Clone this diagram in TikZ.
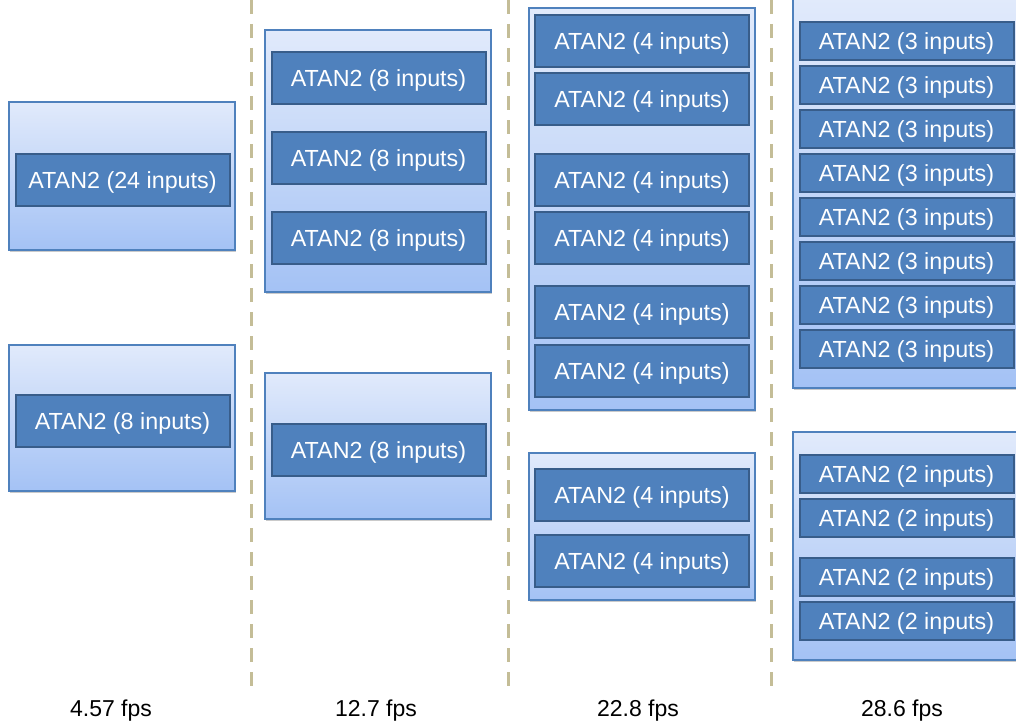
\documentclass[tikz,border=0pt]{standalone}
\usepackage{fontspec}
\setmainfont{Liberation Sans}
\usetikzlibrary{shadows}
\definecolor{outerTop}{HTML}{E1EAFB}
\definecolor{outerBot}{HTML}{A4C2F5}
\definecolor{outerLine}{HTML}{4F81BD}
\definecolor{innerFill}{HTML}{4F81BD}
\definecolor{innerLine}{HTML}{385D8A}
\definecolor{sepLine}{HTML}{C4BD97}
\tikzset{
  outerbox/.style={draw=outerLine, line width=1.2pt, top color=outerTop, bottom color=outerBot,
    minimum width=226pt, inner sep=0pt,
    drop shadow={shadow xshift=1.2pt, shadow yshift=-1.6pt, opacity=0.35, fill=black!60}},
  innerbox/.style={draw=innerLine, line width=2pt, fill=innerFill, text=white,
    minimum width=214pt, inner sep=0pt, text height=16.5pt, text depth=0pt,
    font=\fontsize{23.3}{28}\selectfont},
  tall/.style={minimum height=52pt},
  short/.style={minimum height=38pt},
  sepline/.style={draw=sepLine, line width=3pt, dash pattern=on 14pt off 10pt},
  fpslabel/.style={font=\fontsize{23}{27}\selectfont, text=black, inner sep=0pt,
    text height=16.5pt, text depth=0pt}
}
\begin{document}
\begin{tikzpicture}[x=1pt,y=-1pt]
\useasboundingbox (0,0) rectangle (1016,725);
\clip (0,0) rectangle (1016,725);
% separators
\coordinate (s1t) at (251,0); \coordinate (s1b) at (251,696);
\coordinate (s2t) at (508,0); \coordinate (s2b) at (508,696);
\coordinate (s3t) at (771,0); \coordinate (s3b) at (771,696);
\draw[sepline] (s1t) -- (s1b);
\draw[sepline] (s2t) -- (s2b);
\draw[sepline] (s3t) -- (s3b);
% column 1
\node[outerbox, minimum height=148pt] (o11) at (122,176) {};
\node[innerbox, tall] (a11) at (122.5,180) {ATAN2 (24 inputs)};
\node[outerbox, minimum height=146pt] (o12) at (122,418) {};
\node[innerbox, tall] (a12) at (122.5,421) {ATAN2 (8 inputs)};
% column 2
\node[outerbox, minimum height=262pt] (o21) at (378,161) {};
\node[innerbox, tall] (b1) at (378.5,78) {ATAN2 (8 inputs)};
\node[innerbox, tall] (b2) at (378.5,158) {ATAN2 (8 inputs)};
\node[innerbox, tall] (b3) at (378.5,238) {ATAN2 (8 inputs)};
\node[outerbox, minimum height=146pt] (o22) at (378,446) {};
\node[innerbox, tall] (b4) at (378.5,450) {ATAN2 (8 inputs)};
% column 3
\node[outerbox, minimum height=402pt] (o31) at (642,209) {};
\node[innerbox, tall] (c1) at (642,41) {ATAN2 (4 inputs)};
\node[innerbox, tall] (c2) at (642,99) {ATAN2 (4 inputs)};
\node[innerbox, tall] (c3) at (642,180) {ATAN2 (4 inputs)};
\node[innerbox, tall] (c4) at (642,238) {ATAN2 (4 inputs)};
\node[innerbox, tall] (c5) at (642,312) {ATAN2 (4 inputs)};
\node[innerbox, tall] (c6) at (642,371) {ATAN2 (4 inputs)};
\node[outerbox, minimum height=147pt] (o32) at (642,526.5) {};
\node[innerbox, tall] (c7) at (642,495) {ATAN2 (4 inputs)};
\node[innerbox, tall] (c8) at (642,561) {ATAN2 (4 inputs)};
% column 4
\node[outerbox, minimum height=390pt] (o41) at (906,193) {};
\foreach \i/\y in {1/41,2/85,3/129,4/173,5/217,6/261,7/305,8/349}{
  \node[innerbox, short] (d\i) at (906.5,\y) {ATAN2 (3 inputs)};
}
\node[outerbox, minimum height=228pt] (o42) at (906,546) {};
\node[innerbox, short] (e1) at (906.5,474) {ATAN2 (2 inputs)};
\node[innerbox, short] (e2) at (906.5,518) {ATAN2 (2 inputs)};
\node[innerbox, short] (e3) at (906.5,577) {ATAN2 (2 inputs)};
\node[innerbox, short] (e4) at (906.5,621) {ATAN2 (2 inputs)};
% fps labels
\node[fpslabel] (f1) at (111,708) {4.57 fps};
\node[fpslabel] (f2) at (376,708) {12.7 fps};
\node[fpslabel] (f3) at (638,708) {22.8 fps};
\node[fpslabel] (f4) at (902,708) {28.6 fps};
\end{tikzpicture}
\end{document}
